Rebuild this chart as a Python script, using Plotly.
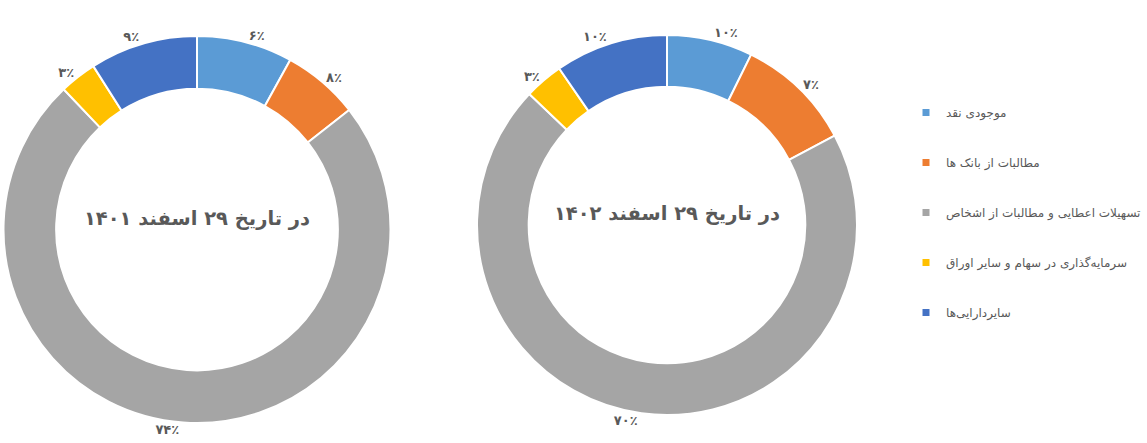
import plotly.graph_objects as go

categories = [
    "موجودی نقد",
    "مطالبات از بانک ها",
    "تسهیلات اعطایی و مطالبات از اشخاص",
    "سرمایه‌گذاری در سهام و سایر اوراق ",
    "سایردارایی‌ها",
]
colors = ["#5B9BD5", "#ED7D31", "#A5A5A5", "#FFC000", "#4472C4"]

# slice sizes (percent) as drawn
values_1401 = [8, 6.4, 73.5, 3.1, 9]
values_1402 = [7.3, 9.9, 69.9, 3.3, 9.6]
# data labels as printed
labels_1401 = ["۶٪", "۸٪", "۷۴٪", "۳٪", "۹٪"]
labels_1402 = ["۱۰٪", "۷٪", "۷۰٪", "۳٪", "۱۰٪"]
titles = ["در تاریخ ۲۹ اسفند ۱۴۰۱", "در تاریخ ۲۹ اسفند ۱۴۰۲"]

W, H = 1147, 443
FONT = "DejaVu Sans, sans-serif"
GREY = "#595959"


def dom(cx, cy, r):
    return dict(x=[(cx - r) / W, (cx + r) / W], y=[1 - (cy + r) / H, 1 - (cy - r) / H])


fig = go.Figure()
for vals, labs, title, d in [
    (values_1401, labels_1401, titles[0], dom(197, 229.5, 193.5)),
    (values_1402, labels_1402, titles[1], dom(667, 225, 190)),
]:
    fig.add_trace(go.Pie(
        labels=categories, values=vals, text=labs,
        texttemplate="<b>%{text}</b>", textposition="outside",
        textfont=dict(family=FONT, size=13, color=GREY),
        hole=0.728, sort=False, direction="clockwise", rotation=0,
        marker=dict(colors=colors, line=dict(color="white", width=2)),
        domain=d, showlegend=False, automargin=False,
        title=dict(text="<b>" + title + "</b><br> ", position="middle center",
                   font=dict(family=FONT, size=19.5, color=GREY)),
    ))

for name, c in zip(categories, colors):
    fig.add_trace(go.Scatter(
        x=[None], y=[None], mode="markers", name=name, legendgroup=name,
        marker=dict(symbol="square", size=7, color=c),
    ))

fig.update_layout(
    width=W, height=H, margin=dict(l=0, r=0, t=0, b=0, autoexpand=False),
    paper_bgcolor="white", plot_bgcolor="white",
    xaxis=dict(visible=False), yaxis=dict(visible=False),
    legend=dict(x=(946 - 40) / W, y=1 - 98 / H,
                xanchor="left", yanchor="top",
                font=dict(family=FONT, size=12, color=GREY),
                tracegroupgap=31, bgcolor="rgba(0,0,0,0)"),
)
fig.write_html("out.html", config={"displayModeBar": False},
               post_script="document.body.style.margin='0';")
